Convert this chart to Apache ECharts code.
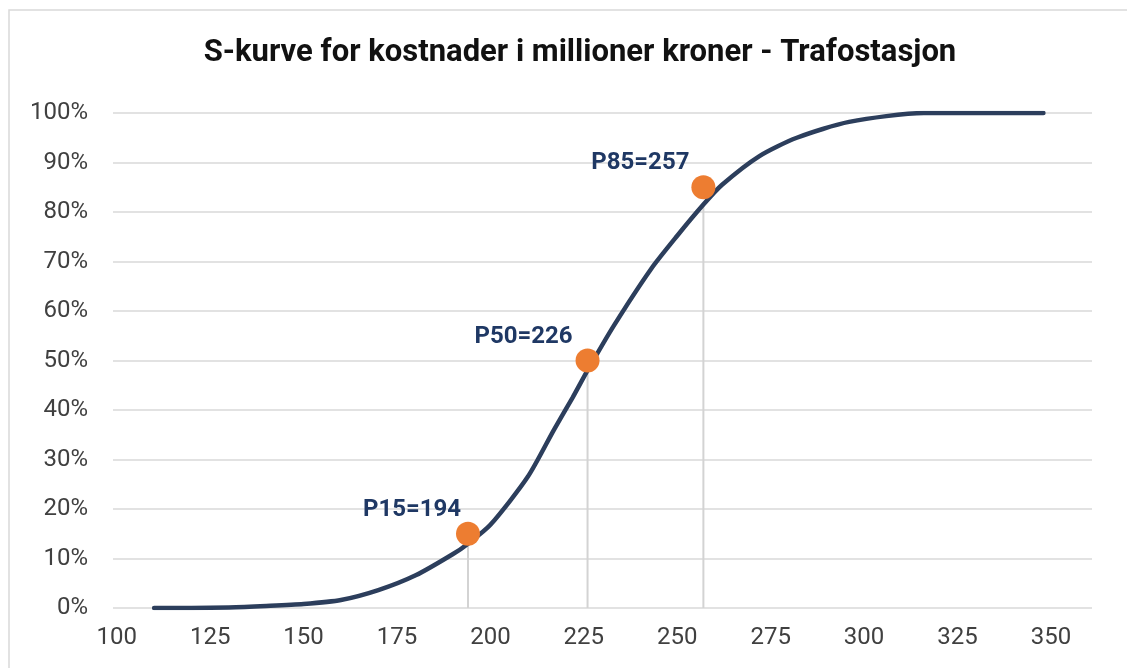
<!DOCTYPE html>
<html>
<head>
<meta charset="utf-8">
<script src="https://cdn.jsdelivr.net/npm/echarts@6/dist/echarts.min.js"></script>
<style>
html,body{margin:0;padding:0;background:#fff;}
#chart{width:1127px;height:668px;}
</style>
</head>
<body>
<div id="chart"></div>
<script>
// --- data ---
var titleText = 'S-kurve for kostnader i millioner kroner - Trafostasjon';
var costs = [110, 120, 130, 140, 150, 160, 170, 180, 190, 194, 200, 210, 217, 222, 226, 233, 243, 250, 257, 262, 272, 282, 296, 316, 330, 348];
var cumPct = [0, 0, 0.1, 0.4, 0.8, 1.6, 3.6, 6.6, 10.9, 13, 16.8, 26.5, 36, 42.5, 48, 57, 68.5, 75.2, 81.5, 85.5, 91.3, 95, 98.2, 100, 100, 100];
var pLevels = [15, 50, 85];
var pCosts = [194, 226, 257];
var dropTops = [13, 48, 81.5];
var xTicks = [100, 125, 150, 175, 200, 225, 250, 275, 300, 325, 350];
var yTicks = [0, 10, 20, 30, 40, 50, 60, 70, 80, 90, 100];

// --- styling (kept separate from data) ---
var labelDx = [-56, -64, -63];
var fontFam = 'Roboto, "Liberation Sans", sans-serif';

var chart = echarts.init(document.getElementById('chart'), null, {renderer: 'canvas'});

var series = [];
pCosts.forEach(function (c, i) {
  series.push({
    type: 'line',
    data: [[c, 0], [c, dropTops[i]]],
    showSymbol: false,
    silent: true,
    lineStyle: {color: '#d3d3d3', width: 2},
    z: 1
  });
});
series.push({
  type: 'line',
  data: costs.map(function (c, i) { return [c, cumPct[i]]; }),
  smooth: 0.25,
  showSymbol: false,
  lineStyle: {color: '#2c3e5c', width: 4.5, cap: 'round'},
  z: 3
});
series.push({
  type: 'scatter',
  data: pCosts.map(function (c, i) {
    return {
      value: [c, pLevels[i]],
      label: {offset: [labelDx[i], 0]}
    };
  }),
  symbolSize: 24,
  itemStyle: {color: '#ed7d31', opacity: 1},
  label: {
    show: true,
    position: 'top',
    distance: 0,
    formatter: function (p) { return 'P' + pLevels[p.dataIndex] + '=' + pCosts[p.dataIndex]; },
    color: '#1f3864',
    fontFamily: fontFam,
    fontWeight: 'bold',
    fontSize: 24
  },
  z: 4
});

chart.setOption({
  animation: false,
  backgroundColor: '#ffffff',
  title: {
    text: titleText,
    left: 575,
    top: 33,
    textAlign: 'center',
    textStyle: {fontFamily: fontFam, fontWeight: 'bold', fontSize: 31, color: '#111111'}
  },
  graphic: [{
    type: 'rect',
    shape: {x: 9, y: 10, width: 1140, height: 680},
    style: {fill: 'none', stroke: '#d9d9d9', lineWidth: 1.5},
    silent: true
  }],
  grid: {left: 113, right: 35, top: 113, bottom: 60},
  xAxis: {
    type: 'value',
    min: 99,
    max: 361,
    axisLine: {show: false},
    axisTick: {show: false},
    splitLine: {show: false},
    axisLabel: {
      customValues: xTicks,
      margin: 18,
      color: '#404040',
      fontFamily: fontFam,
      fontSize: 24
    }
  },
  yAxis: {
    type: 'value',
    min: 0,
    max: 100,
    interval: 10,
    axisLine: {show: false},
    axisTick: {show: false},
    splitLine: {lineStyle: {color: '#d9d9d9', width: 1.5}},
    axisLabel: {
      customValues: yTicks,
      formatter: '{value}%',
      margin: 25,
      color: '#404040',
      fontFamily: fontFam,
      fontSize: 24
    }
  },
  series: series
});
</script>
</body>
</html>
